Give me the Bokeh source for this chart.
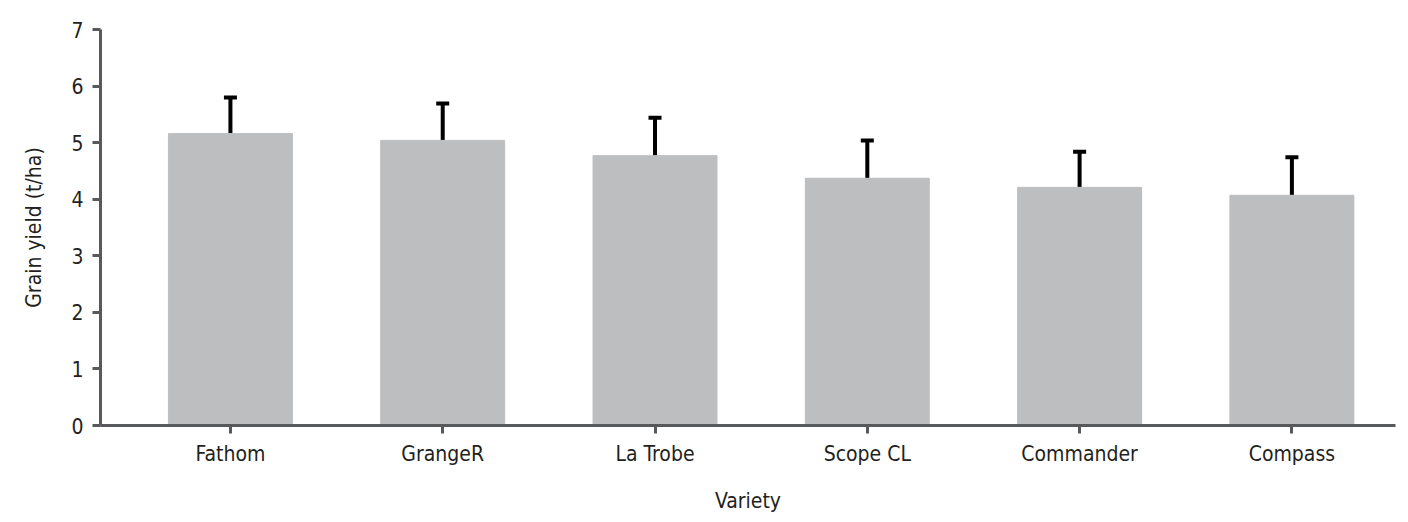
from bokeh.plotting import figure
from bokeh.models import ColumnDataSource, Range1d, FixedTicker, Whisker, TeeHead
from bokeh.embed import file_html
from bokeh.resources import INLINE

# grain yield by variety (t/ha)
varieties = ["Fathom", "GrangeR", "La Trobe", "Scope CL", "Commander", "Compass"]
yield_mean = [5.16, 5.04, 4.77, 4.37, 4.21, 4.07]
yield_upper = [5.80, 5.69, 5.44, 5.04, 4.84, 4.74]
y_ticks = [0, 1, 2, 3, 4, 5, 6, 7]

FONT = "DejaVu Sans Condensed"
TEXT = "#231f20"
AXIS = "#58595b"

pos = list(range(len(varieties)))
src = ColumnDataSource(data=dict(x=pos, top=yield_mean, upper=yield_upper))

p = figure(width=1400, height=514, output_backend="svg", toolbar_location=None,
           x_range=Range1d(-0.612, 5.488), y_range=Range1d(0, 7),
           frame_width=1295, frame_height=396,
           min_border_left=100, min_border_top=29, min_border_right=5, min_border_bottom=89)
p.outline_line_color = None
p.grid.visible = False

p.vbar(x="x", top="top", width=0.584, source=src, color="#bcbec0")

# error bars: only the upper half, with a cap
err = Whisker(base="x", upper="upper", lower="top", source=src,
              line_color="black", line_width=4,
              upper_head=TeeHead(size=13, line_width=4, line_color="black"),
              lower_head=None)
p.add_layout(err)

p.xaxis.ticker = FixedTicker(ticks=pos)
p.xaxis.major_label_overrides = {i: v for i, v in enumerate(varieties)}
p.yaxis.ticker = FixedTicker(ticks=y_ticks)
p.xaxis.minor_tick_line_color = None
p.yaxis.minor_tick_line_color = None

for ax in (p.xaxis, p.yaxis):
    ax.axis_line_color = AXIS
    ax.axis_line_width = 3
    ax.major_tick_line_color = AXIS
    ax.major_tick_line_width = 3
    ax.major_tick_in = 0
    ax.major_tick_out = 8
    ax.major_label_text_font = FONT
    ax.major_label_text_font_size = "21px"
    ax.major_label_text_color = TEXT
    ax.axis_label_text_font = FONT
    ax.axis_label_text_font_size = "21px"
    ax.axis_label_text_font_style = "normal"
    ax.axis_label_text_color = TEXT

p.xaxis.axis_label = "Variety"
p.yaxis.axis_label = "Grain yield (t/ha)"
p.xaxis.major_label_standoff = 8
p.yaxis.major_label_standoff = 9
p.xaxis.axis_label_standoff = 20
p.yaxis.axis_label_standoff = 22

open("out.html", "w").write(file_html(p, INLINE))
